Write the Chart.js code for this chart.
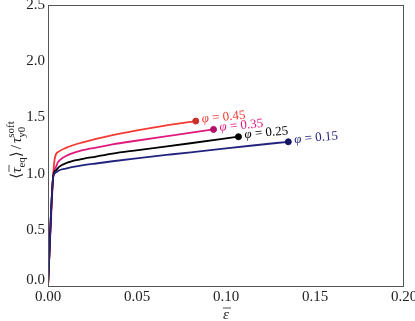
<!DOCTYPE html>
<html>
<head>
<meta charset="utf-8">
<script src="https://cdn.jsdelivr.net/npm/chart.js@4.4.1/dist/chart.umd.min.js"></script>
<style>
html, body { margin: 0; padding: 0; background: #fff; }
</style>
</head>
<body>
<canvas id="chart" width="415" height="321"></canvas>
<script>
// volume fractions and their curves
var phiValues = ['0.15', '0.25', '0.35', '0.45'];

var strain15 = [0, 0.003, 0.0045, 0.0064, 0.01, 0.0176, 0.027, 0.0363, 0.0485, 0.07, 0.09, 0.115, 0.135];
var stress15 = [0, 0.975, 1.01, 1.03, 1.045, 1.068, 1.09, 1.11, 1.134, 1.172, 1.206, 1.25, 1.283];

var strain25 = [0, 0.003, 0.0045, 0.0064, 0.01, 0.0176, 0.027, 0.0363, 0.0485, 0.08, 0.107];
var stress25 = [0, 0.985, 1.03, 1.062, 1.092, 1.125, 1.152, 1.178, 1.205, 1.27, 1.328];

var strain35 = [0, 0.003, 0.0045, 0.0055, 0.0083, 0.0176, 0.027, 0.0363, 0.0485, 0.07, 0.093];
var stress35 = [0, 0.99, 1.06, 1.1, 1.14, 1.2, 1.232, 1.26, 1.29, 1.34, 1.393];

var strain45 = [0, 0.003, 0.0039, 0.006, 0.0101, 0.0176, 0.027, 0.0363, 0.0485, 0.065, 0.083];
var stress45 = [0, 1.0, 1.143, 1.195, 1.229, 1.27, 1.308, 1.342, 1.38, 1.425, 1.467];

var xTicks = [0, 0.05, 0.1, 0.15, 0.2];
var yTicks = [0, 0.5, 1.0, 1.5, 2.0, 2.5];

var lineColors = ['#23237f', '#000000', '#e0197f', '#f53a33'];
var markColors = ['#141466', '#000000', '#b3106a', '#cc2f2a'];

var serif = "'Liberation Serif', 'DejaVu Serif', serif";

function toPoints(xs, ys) {
    var pts = [];
    for (var i = 0; i < xs.length; i++) pts.push({ x: xs[i], y: ys[i] });
    return pts;
}

var curves = [
    toPoints(strain15, stress15),
    toPoints(strain25, stress25),
    toPoints(strain35, stress35),
    toPoints(strain45, stress45)
];

var datasets = curves.map(function (pts, i) {
    return {
        label: phiValues[i],
        data: pts,
        borderColor: lineColors[i],
        borderWidth: 1.8,
        cubicInterpolationMode: 'monotone',
        pointRadius: function (ctx) { return ctx.dataIndex === pts.length - 1 ? 3 : 0; },
        pointBackgroundColor: markColors[i],
        pointBorderColor: markColors[i],
        pointBorderWidth: 1,
        fill: false
    };
});

// frame, tick labels, axis titles and the phi annotations
var decorations = {
    id: 'decorations',
    afterDraw: function (chart) {
        var ctx = chart.ctx;
        var a = chart.chartArea;
        var ys = chart.scales.y;

        ctx.save();
        ctx.strokeStyle = '#555';
        ctx.lineWidth = 1;
        ctx.strokeRect(a.left + 0.5, a.top + 0.5, a.right - a.left - 1, a.bottom - a.top);

        // y tick labels
        ctx.fillStyle = '#222';
        ctx.font = '15px ' + serif;
        ctx.textAlign = 'right';
        ctx.textBaseline = 'middle';
        yTicks.forEach(function (v) {
            var py = ys.getPixelForValue(v);
            if (v === 0) py -= 6;
            ctx.fillText(v.toFixed(1), a.left - 3, py);
        });

        // x axis title: epsilon bar
        ctx.font = 'italic 15px ' + serif;
        ctx.textAlign = 'center';
        ctx.textBaseline = 'alphabetic';
        var ex = (a.left + a.right) / 2, ey = 319;
        ctx.fillText('ε', ex, ey);
        ctx.beginPath();
        ctx.moveTo(ex - 3, ey - 11);
        ctx.lineTo(ex + 5, ey - 11);
        ctx.lineWidth = 0.8;
        ctx.strokeStyle = '#222';
        ctx.stroke();

        // y axis title, rotated
        ctx.save();
        ctx.translate(16, 150);
        ctx.rotate(-Math.PI / 2);
        ctx.textAlign = 'left';
        ctx.textBaseline = 'alphabetic';
        var big = '15px ' + serif, bigIt = 'italic 15px ' + serif, small = '11px ' + serif;
        var parts = [];
        var x = 0;
        function piece(txt, font, dy) {
            ctx.font = font;
            var w = ctx.measureText(txt).width;
            parts.push({ t: txt, f: font, x: x, dy: dy, w: w });
            return w;
        }
        x += piece('⟨', big, 0);
        var tau1 = x;
        x += piece('τ', bigIt, 0);
        x += piece('eq', small, 4);
        x += piece('⟩', big, 0) + 2;
        x += piece('/', big, 0) + 2;
        x += piece('τ', bigIt, 0);
        var sx = x;
        var w1 = piece('soft', small, -7);
        x = sx;
        var w2 = piece('y0', small, 4);
        x = sx + Math.max(w1, w2);
        var total = x;
        ctx.translate(-total / 2, 5);
        parts.forEach(function (p) {
            ctx.font = p.f;
            ctx.fillText(p.t, p.x, p.dy);
        });
        ctx.beginPath();
        ctx.moveTo(tau1 + 1, -12);
        ctx.lineTo(tau1 + 8, -12);
        ctx.lineWidth = 0.8;
        ctx.stroke();
        ctx.restore();

        // phi labels next to the end markers
        chart.data.datasets.forEach(function (ds, i) {
            var meta = chart.getDatasetMeta(i);
            var last = meta.data[meta.data.length - 1];
            ctx.save();
            ctx.translate(last.x + 6, last.y - 2);
            ctx.rotate(-5 * Math.PI / 180);
            ctx.fillStyle = lineColors[i];
            ctx.textBaseline = 'middle';
            ctx.textAlign = 'left';
            ctx.font = 'italic 13px ' + serif;
            ctx.fillText('φ', 0, 0);
            var w = ctx.measureText('φ').width;
            ctx.font = '13px ' + serif;
            ctx.fillText(' = ' + ds.label, w, 0);
            ctx.restore();
        });
        ctx.restore();
    }
};

new Chart(document.getElementById('chart'), {
    type: 'line',
    data: { datasets: datasets },
    options: {
        responsive: false,
        animation: false,
        layout: { padding: { left: 0, top: 5, right: 11, bottom: 0 } },
        plugins: { legend: { display: false }, tooltip: { enabled: false } },
        scales: {
            x: {
                type: 'linear',
                min: 0,
                max: 0.2,
                grid: { display: false, drawTicks: false },
                border: { display: false },
                ticks: {
                    stepSize: 0.05,
                    padding: 2,
                    color: '#222',
                    font: { family: serif, size: 15 },
                    callback: function (v) { return v.toFixed(2); },
                    maxRotation: 0
                },
                afterBuildTicks: function (scale) {
                    scale.ticks = xTicks.map(function (v) { return { value: v }; });
                },
                afterFit: function (scale) {
                    scale.height = 35;
                    scale.paddingLeft = 0;
                    scale.paddingRight = 0;
                }
            },
            y: {
                type: 'linear',
                min: 0,
                max: 2.5,
                grid: { display: false },
                border: { display: false },
                ticks: { display: false },
                afterFit: function (scale) {
                    scale.width = 48;
                    scale.paddingTop = 0;
                    scale.paddingBottom = 0;
                }
            }
        }
    },
    plugins: [decorations]
});
</script>
</body>
</html>
